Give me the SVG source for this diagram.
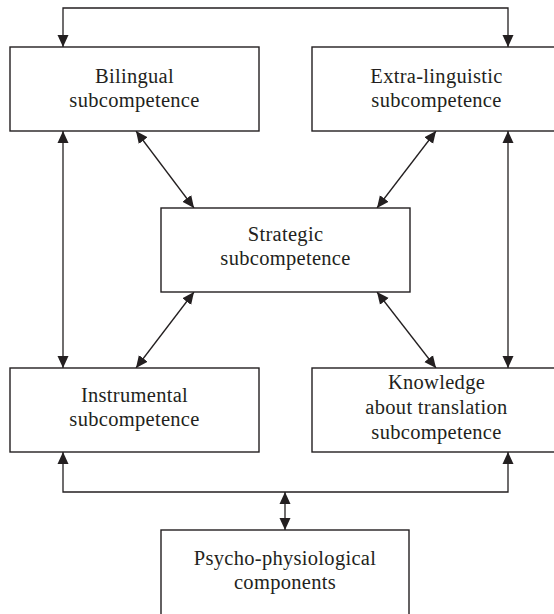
<svg xmlns="http://www.w3.org/2000/svg" width="554" height="614" viewBox="0 0 554 614">
  <style>
    .box { fill: #ffffff; stroke: #231f20; stroke-width: 1.4; }
    .link { fill: none; stroke: #231f20; stroke-width: 1.3; }
    .label { font-family: "Liberation Serif", "Times New Roman", serif; font-size: 20.5px; fill: #231f20; text-anchor: middle; letter-spacing: 0.3px; }
  </style>
  <defs>
    <marker id="arrow" viewBox="0 0 12 12" refX="12" refY="6" markerWidth="12" markerHeight="12" markerUnits="userSpaceOnUse" orient="auto-start-reverse">
      <path d="M0,0.5 L12,6 L0,11.5 z" fill="#231f20"/>
    </marker>
  </defs>

  <rect width="554" height="614" fill="#ffffff"/>

  <g id="connectors">
    <!-- top bracket between the two upper boxes -->
    <path class="link" d="M63,47 V8 H508 V47" marker-start="url(#arrow)" marker-end="url(#arrow)"/>
    <!-- vertical links on each side -->
    <line class="link" x1="63" y1="131" x2="63" y2="368" marker-start="url(#arrow)" marker-end="url(#arrow)"/>
    <line class="link" x1="508" y1="131" x2="508" y2="368" marker-start="url(#arrow)" marker-end="url(#arrow)"/>
    <!-- diagonals to the strategic box -->
    <line class="link" x1="136" y1="131" x2="194" y2="208" marker-start="url(#arrow)" marker-end="url(#arrow)"/>
    <line class="link" x1="436" y1="131" x2="377" y2="208" marker-start="url(#arrow)" marker-end="url(#arrow)"/>
    <line class="link" x1="194" y1="292" x2="136" y2="368" marker-start="url(#arrow)" marker-end="url(#arrow)"/>
    <line class="link" x1="377" y1="292" x2="436" y2="368" marker-start="url(#arrow)" marker-end="url(#arrow)"/>
    <!-- bottom bracket and link to psycho-physiological components -->
    <path class="link" d="M63,452 V492 H508 V452" marker-start="url(#arrow)" marker-end="url(#arrow)"/>
    <line class="link" x1="285" y1="492" x2="285" y2="530" marker-start="url(#arrow)" marker-end="url(#arrow)"/>
  </g>

  <g id="bilingual">
    <rect class="box" x="10" y="47" width="249" height="84"/>
    <text class="label" x="134.5" y="83">Bilingual</text>
    <text class="label" x="134.5" y="107">subcompetence</text>
  </g>

  <g id="extra-linguistic">
    <rect class="box" x="312" y="47" width="249" height="84"/>
    <text class="label" x="436.5" y="83">Extra-linguistic</text>
    <text class="label" x="436.5" y="107">subcompetence</text>
  </g>

  <g id="strategic">
    <rect class="box" x="161" y="208" width="249" height="84"/>
    <text class="label" x="285.5" y="241">Strategic</text>
    <text class="label" x="285.5" y="265">subcompetence</text>
  </g>

  <g id="instrumental">
    <rect class="box" x="10" y="368" width="249" height="84"/>
    <text class="label" x="134.5" y="402">Instrumental</text>
    <text class="label" x="134.5" y="426">subcompetence</text>
  </g>

  <g id="knowledge">
    <rect class="box" x="312" y="368" width="249" height="84"/>
    <text class="label" x="436.5" y="389">Knowledge</text>
    <text class="label" x="436.5" y="414">about translation</text>
    <text class="label" x="436.5" y="439">subcompetence</text>
  </g>

  <g id="psycho-physiological">
    <rect class="box" x="161" y="530" width="248" height="100"/>
    <text class="label" x="285" y="565">Psycho-physiological</text>
    <text class="label" x="285" y="589">components</text>
  </g>
</svg>
